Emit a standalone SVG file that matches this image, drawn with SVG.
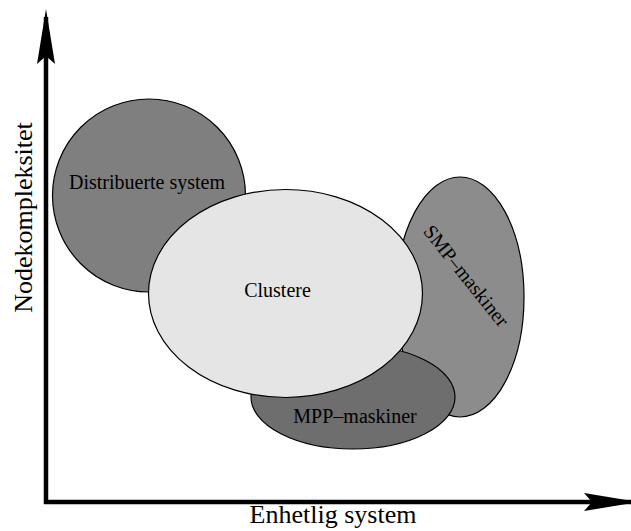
<svg xmlns="http://www.w3.org/2000/svg" width="631" height="531" viewBox="0 0 631 531">
  <style>
    .set { stroke: #000; stroke-width: 1.2; }
    .label { font-family: "Liberation Serif", "Times New Roman", serif; font-size: 20px; fill: #000; text-anchor: middle; }
    .axis-label { font-family: "Liberation Serif", "Times New Roman", serif; font-size: 26px; fill: #000; text-anchor: middle; }
    .axis { stroke: #000; stroke-width: 4.5; fill: none; }
  </style>
  <defs>
    <marker id="arrow" markerUnits="userSpaceOnUse" viewBox="-48 -10 58 20" refX="0" refY="0" markerWidth="58" markerHeight="20" orient="auto">
      <path d="M8,0 L-47,-9 L-39,0 L-47,9 Z" fill="#000"/>
    </marker>
  </defs>

  <rect width="631" height="531" fill="#fff"/>

  <g id="distribuerte-system">
    <circle class="set" cx="149" cy="195.5" r="96.5" fill="#7f7f7f"/>
    <text class="label" x="147" y="189">Distribuerte system</text>
  </g>

  <g id="smp-maskiner">
    <ellipse class="set" cx="460" cy="297" rx="64" ry="120" fill="#8c8c8c"/>
    <text class="label" transform="translate(461 280) rotate(51.3)">SMP–maskiner</text>
  </g>

  <g id="mpp-maskiner">
    <ellipse class="set" cx="353" cy="397" rx="102" ry="52" fill="#6e6e6e"/>
    <text class="label" x="355" y="423">MPP–maskiner</text>
  </g>

  <g id="clustere">
    <ellipse class="set" cx="285.5" cy="293.5" rx="137" ry="104" fill="#e5e5e5"/>
    <text class="label" x="277.5" y="297">Clustere</text>
  </g>

  <g id="axes">
    <line class="axis" x1="46" y1="504" x2="46" y2="17" marker-end="url(#arrow)"/>
    <line class="axis" x1="44" y1="502" x2="631" y2="502" marker-end="url(#arrow)"/>
  </g>

  <text class="axis-label" transform="translate(31.5 217.5) rotate(-90)">Nodekompleksitet</text>
  <text class="axis-label" x="333" y="523">Enhetlig system</text>
</svg>
